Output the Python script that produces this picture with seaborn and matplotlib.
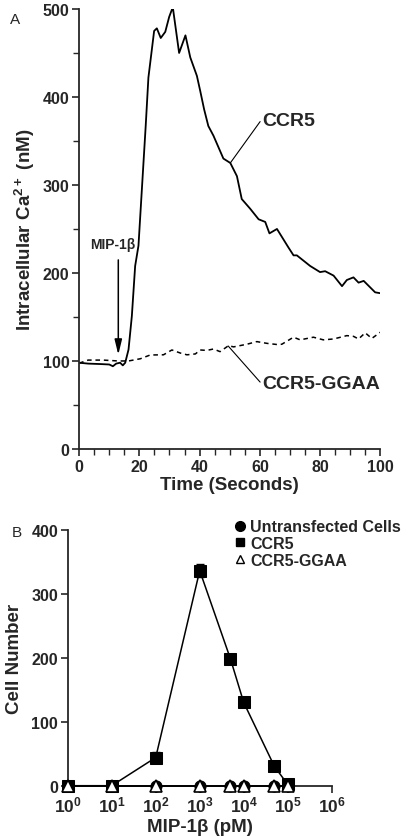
import numpy as np
import pandas as pd
import seaborn as sns
import matplotlib.pyplot as plt
from matplotlib.lines import Line2D

# Panel A: calcium flux traces
t_ccr5 = [0, 3, 7, 10, 11.2, 12.3, 13.6, 14.5, 15.3, 16.4, 17.5, 18.6, 19.7, 20.3, 22.1, 23.0,
          24.9, 25.8, 27.1, 28.6, 29.9, 31.1, 33.2, 35.3, 36.9, 39.1, 40.2, 41.5, 42.9, 44.6,
          47.9, 50.2, 52.4, 54.0, 56.8, 59.6, 61.8, 63.2, 65.7, 69.5, 71.2, 72.3, 76.7, 80.0,
          81.7, 84.5, 87.3, 88.9, 91.1, 92.8, 94.5, 98.3, 100]
ca_ccr5 = [98, 97, 96.5, 96, 94, 97, 98, 95, 98, 113, 151, 208, 231, 265, 367, 422,
           475, 478, 467, 474, 491, 502, 450, 470, 445, 424, 407, 386, 367, 356,
           330, 325, 310, 284, 273, 261, 258, 245, 250, 229, 220, 220, 208, 201,
           202, 197, 185, 192, 195, 189, 191, 178, 177]

t_ggaa = [0, 3, 8, 13, 16.4, 20.3, 23.6, 28, 30.8, 33.6, 35.8, 38.6, 40.2, 42.4, 44.6, 46.8,
          49.6, 51.3, 55.7, 59, 62.4, 65.7, 67.3, 71.2, 73.4, 77.8, 81.1, 84.5, 88.9, 91.1,
          92.8, 95, 97.2, 100]
ca_ggaa = [97.5, 101, 101, 100, 100, 102.5, 106.8, 107, 112.5, 109, 107, 108, 112.5, 112, 113.6,
           110.6, 117.4, 116, 119, 122, 120, 118.7, 119, 127, 124, 127, 124, 125, 128.8, 128,
           125, 132, 125.6, 132.6]

# Panel B: responding cell number vs MIP-1beta dose
dose = [1, 10, 100, 1000, 5000, 10000, 50000, 100000]
n_untransfected = [0, 0, 0, 0, 0, 0, 0, 0]
n_ccr5 = [0, 0, 44, 336, 198, 130, 30, 2]
err_ccr5 = [0, 0, 8, 10, 6, 5, 3, 2]
n_ggaa = [0, 0, 0, 0, 0, 0, 0, 0]
groups = ["Untransfected Cells", "CCR5", "CCR5-GGAA"]

sns.set_style("ticks")
plt.rcParams['font.family'] = ['Liberation Sans', 'DejaVu Sans']
plt.rcParams['font.weight'] = 'bold'
plt.rcParams['axes.labelweight'] = 'bold'
plt.rcParams['mathtext.fontset'] = 'custom'
plt.rcParams['mathtext.rm'] = 'Liberation Sans:bold'
plt.rcParams['mathtext.bf'] = 'Liberation Sans:bold'
plt.rcParams['axes.linewidth'] = 1.3
plt.rcParams['xtick.major.width'] = 1.2
plt.rcParams['ytick.major.width'] = 1.2
plt.rcParams['xtick.minor.width'] = 1.0
plt.rcParams['ytick.minor.width'] = 1.0

fig = plt.figure(figsize=(4.08, 8.37), dpi=100)

# ---------- Panel A ----------
axA = fig.add_axes([0.194, 0.4624, 0.738, 0.5257])
sns.lineplot(x=t_ccr5, y=ca_ccr5, ax=axA, color="black", lw=1.3)
sns.lineplot(x=t_ggaa, y=ca_ggaa, ax=axA, color="black", lw=1.1, linestyle=(0, (3, 2.5)))
axA.set_xlim(0, 100)
axA.set_ylim(0, 500)
axA.set_xticks(range(0, 101, 20))
axA.set_xticks(range(0, 101, 5), minor=True)
axA.set_yticks(range(0, 501, 100))
axA.set_yticks(range(50, 501, 100), minor=True)
axA.tick_params(which="major", length=5, labelsize=11.5, pad=2)
axA.tick_params(which="minor", length=4)
axA.set_xlabel("Time (Seconds)", fontsize=13.5, labelpad=2)
axA.set_ylabel("Intracellular Ca$^{2+}$ (nM)", fontsize=13.5, labelpad=4)
sns.despine(ax=axA)

axA.annotate("", xy=(13, 104), xytext=(13, 218),
             arrowprops=dict(arrowstyle="-|>,head_length=0.9,head_width=0.22",
                             color="black", lw=1.1))
axA.text(11, 233, "MIP-1β", fontsize=10, ha="center", va="center")
axA.plot([50.2, 60.1], [325, 372], color="black", lw=0.8)
axA.text(60.8, 373, "CCR5", fontsize=14, ha="left", va="center")
axA.plot([49.5, 60.1], [117, 76], color="black", lw=0.8)
axA.text(60.8, 74, "CCR5-GGAA", fontsize=14, ha="left", va="center")
fig.text(0.025, 0.985, "A", fontsize=11, fontweight="normal", ha="left", va="top")

# ---------- Panel B ----------
axB = fig.add_axes([0.166, 0.0601, 0.647, 0.3059])
df = pd.DataFrame({"dose": dose * 3,
                   "cells": n_untransfected + n_ccr5 + n_ggaa,
                   "group": [g for g in groups for _ in dose]})
axB.errorbar(dose, n_ccr5, yerr=err_ccr5, fmt="none", ecolor="black", elinewidth=1,
             capsize=3, capthick=1, zorder=2)
sns.lineplot(data=df, x="dose", y="cells", hue="group", style="group",
             palette=["black", "black", "black"],
             markers={"Untransfected Cells": "o", "CCR5": "s", "CCR5-GGAA": "^"},
             dashes=False, ax=axB, lw=1.1, markersize=8, legend=False, zorder=3)
# circles and squares filled, triangles open
for ln in axB.get_lines()[-3:]:
    ln.set_clip_on(False)
    if ln.get_marker() == "^":
        ln.set_markerfacecolor("white")
        ln.set_markeredgecolor("black")
        ln.set_markeredgewidth(1.2)
        ln.set_zorder(5)
    else:
        ln.set_markerfacecolor("black")
        ln.set_markeredgecolor("black")

axB.set_xscale("log")
axB.set_xlim(1, 1e6)
axB.set_ylim(0, 400)
axB.set_xticks([10 ** k for k in range(7)])
axB.set_xticklabels([r"$\mathbf{10^{%d}}$" % k for k in range(7)])
axB.xaxis.set_minor_locator(plt.NullLocator())
axB.set_yticks(range(0, 401, 100))
axB.tick_params(which="major", length=5, labelsize=11.5, pad=2)
axB.tick_params(axis="x", labelsize=12.5, pad=1)
axB.set_xlabel("MIP-1β (pM)", fontsize=13.5, labelpad=3)
axB.set_ylabel("Cell Number", fontsize=13.5, labelpad=6)
sns.despine(ax=axB)

handles = [Line2D([], [], ls="none", marker="o", color="black", ms=7),
           Line2D([], [], ls="none", marker="s", color="black", ms=6),
           Line2D([], [], ls="none", marker="^", mfc="white", mec="black", ms=6)]
axB.legend(handles, groups, loc="upper left", bbox_to_anchor=(0.61, 1.065), frameon=False,
           handlelength=0.6, handletextpad=0.35, labelspacing=0.1,
           prop={"weight": "bold", "size": 11.5}, borderaxespad=0)
fig.text(0.028, 0.372, "B", fontsize=11, fontweight="normal", ha="left", va="top")

fig.savefig("out.png", dpi=100)
